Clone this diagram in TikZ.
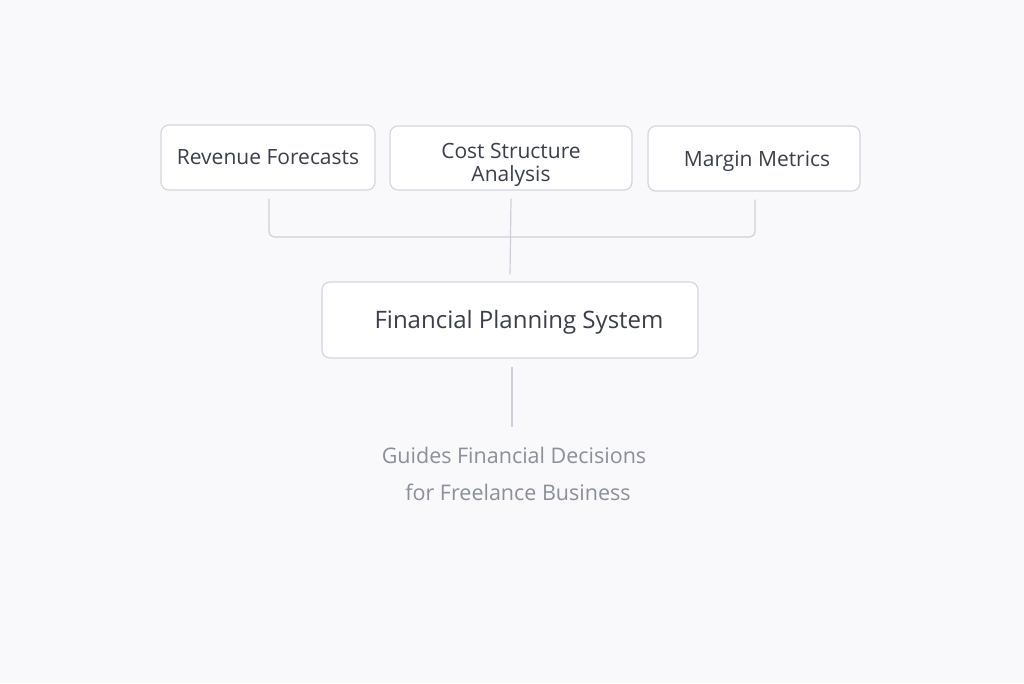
\documentclass[tikz,border=0pt]{standalone}
\usepackage{fontspec}
\setmainfont{Open Sans}
\definecolor{bg}{HTML}{F9F9FB}
\definecolor{boxline}{HTML}{D3D6DE}
\definecolor{txt}{HTML}{3A3F4B}
\definecolor{subtxt}{HTML}{8A8F9A}
\definecolor{conn}{HTML}{CDD0D8}
\newcommand{\lowerby}[2]{\raisebox{0pt}[\dimexpr\height+#1\relax][\depth]{#2}}
\begin{document}
\begin{tikzpicture}[x=1pt,y=-1pt,
  card/.style={draw=boxline, line width=1.2pt, rounded corners=8pt, fill=white, text=txt, align=center, inner sep=0pt, font=\fontsize{21}{23}\selectfont},
  link/.style={draw=conn, line width=1.2pt}]
\useasboundingbox[fill=bg] (0,0) rectangle (1024,683);
\node[card, minimum width=214pt, minimum height=65pt] (rev) at (268,157.5) {Revenue Forecasts};
\node[card, minimum width=242pt, minimum height=64pt] (cost) at (511,158) {\lowerby{14pt}{\begin{tabular}{@{}c@{}}Cost Structure\\Analysis\end{tabular}}};
\node[card, minimum width=212pt, minimum height=65pt] (mm) at (754,158.5) {\lowerby{6pt}{\hspace*{6pt}Margin Metrics}};
\node[card, minimum width=376pt, minimum height=76pt, font=\fontsize{24}{28}\selectfont] (fps) at (510,320) {\lowerby{4pt}{\hspace*{18pt}Financial Planning System}};
\node[text=subtxt, align=center, font=\fontsize{21.5}{37}\selectfont, inner sep=0pt] (out) at (514,474) {Guides Financial Decisions\\ \hspace*{8pt}for Freelance Business};
\coordinate (j) at (511,237);
\draw[link, rounded corners=6pt] ([xshift=1pt,yshift=-8pt]rev.south) |- (j) -| ([xshift=1pt,yshift=-8pt]mm.south);
\draw[link] ([yshift=-8pt]cost.south) -- ([yshift=7pt]fps.north);
\draw[link] ([xshift=2pt,yshift=-8pt]fps.south) -- ([xshift=-2pt,yshift=20pt]out.north);
\end{tikzpicture}
\end{document}
